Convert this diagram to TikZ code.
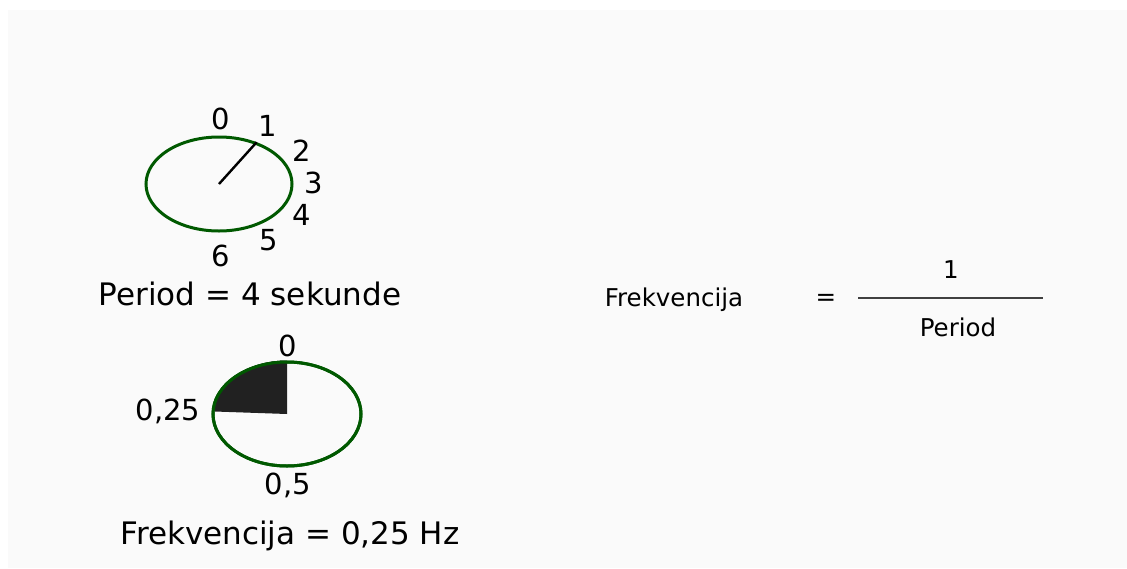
\documentclass[tikz,border=0pt]{standalone}
\usepackage{fontspec}
\setmainfont{DejaVu Sans}
\usetikzlibrary{positioning,shapes.geometric}

\begin{document}
\begin{tikzpicture}[x=1pt,y=1pt,
  ring/.style={draw=green!35!black,ellipse,line width=3pt,inner sep=0pt},
  lbl/.style={inner sep=1pt,font=\fontsize{29}{33}\selectfont},
  big/.style={inner sep=1pt,font=\fontsize{31}{35}\selectfont},
  eqn/.style={inner sep=1pt,font=\fontsize{24.5}{29}\selectfont}]
  \useasboundingbox (0,0) rectangle (1127,-568);
  \fill[white] (0,0) rectangle (1127,-568);
  \fill[black!2] (8,-10) rectangle (1127,-568);
  % upper clock
  \node[ring,minimum width=146pt,minimum height=94pt] (clock) at (219,-184) {};
  \draw[line width=2.4pt] (clock.center) -- (clock.48);
  \node[lbl] (t0) at (221,-119) {0};
  \node[lbl] (t1) at (268,-126) {1};
  \node[lbl] (t2) at (302,-151) {2};
  \node[lbl] (t3) at (314,-183) {3};
  \node[lbl] (t4) at (302,-215) {4};
  \node[lbl] (t5) at (269,-240) {5};
  \node[lbl] (t6) at (221,-256) {6};
  \node[big] (period) at (250,-294) {Period = 4 sekunde};
  % lower clock
  \node[ring,minimum width=148pt,minimum height=104pt] (wheel) at (287,-414) {};
  \fill[black!87] (wheel.center) -- (wheel.north) arc[start angle=90,end angle=180,x radius=72.5pt,y radius=51pt] -- cycle;
  \node[ring,minimum width=148pt,minimum height=104pt] at (wheel.center) {};
  \node[lbl] (w0) at (288,-346) {0};
  \node[lbl] (wq) at (168,-411) {0,25};
  \node[lbl] (wh) at (288,-485) {0,5};
  \node[big] (freq) at (290,-536) {Frekvencija = 0,25 Hz};
  % formula
  \node[eqn] (fname) at (674,-300) {Frekvencija};
  \node[eqn] (eq) at (826,-300) {=};
  \coordinate (barl) at (858,-298);
  \coordinate (barr) at (1043,-298);
  \draw[line width=2.4pt,black!75] (barl) -- (barr);
  \node[eqn] (num) at (951,-270) {1};
  \node[eqn] (den) at (958,-327) {Period};
\end{tikzpicture}
\end{document}
